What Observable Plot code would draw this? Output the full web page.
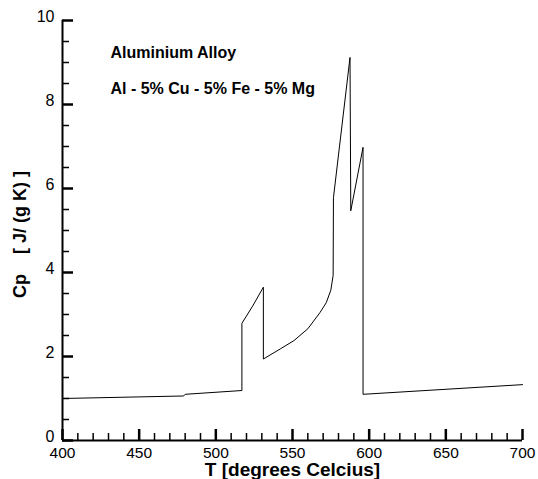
<!DOCTYPE html>
<html>
<head>
<meta charset="utf-8">
<script src="https://cdn.jsdelivr.net/npm/d3@7"></script>
<script src="https://cdn.jsdelivr.net/npm/@observablehq/plot@0.6"></script>
<style>
  html, body { margin: 0; padding: 0; background: #fff; }
  #chart svg { display: block; font-family: 'Liberation Sans', Arial, Helvetica, sans-serif; }
</style>
</head>
<body>
<div id="chart"></div>
<script>
// Temperature (°C) and specific heat Cp (J/(g K))
const temperature = [400, 479, 480, 517, 517, 524, 531, 531, 542, 551, 560, 568, 572, 575, 576.5, 576.7, 587.5, 588, 596, 596, 700];
const cp          = [1.00, 1.06, 1.10, 1.19, 2.79, 3.20, 3.65, 1.94, 2.18, 2.38, 2.66, 3.05, 3.28, 3.58, 3.93, 5.78, 9.12, 5.47, 6.98, 1.10, 1.33];

const xMajorTicks = [400, 450, 500, 550, 600, 650, 700];
const yMajorTicks = [0, 2, 4, 6, 8, 10];
const xMinorTicks = d3.range(400, 701, 10).filter(t => t % 50 !== 0);
const yMinorTicks = d3.range(0, 10.01, 0.5).filter(t => t % 2 !== 0);

const xTitle = "T [degrees Celcius]";
const yTitle = "Cp    [ J/ (g K) ]";
const noteLines = ["Aluminium Alloy", "Al - 5% Cu - 5% Fe - 5% Mg"];

const data = temperature.map((t, i) => ({t, cp: cp[i]}));
const asObj = arr => arr.map(v => ({v}));

const W = 538, H = 479;
const mL = 62, mR = 16, mT = 20, mB = 39;
const frameW = W - mL - mR, frameH = H - mT - mB;

const chart = Plot.plot({
  width: W,
  height: H,
  marginLeft: mL,
  marginRight: mR,
  marginTop: mT,
  marginBottom: mB,
  x: {domain: [400, 700]},
  y: {domain: [0, 10]},
  marks: [
    // inward ticks drawn as short tick marks inset from the frame
    Plot.tickX(asObj(xMinorTicks), {x: "v", stroke: "black", strokeWidth: 1.5, insetTop: frameH - 7}),
    Plot.tickX(asObj(xMajorTicks), {x: "v", stroke: "black", strokeWidth: 2.5, insetTop: frameH - 11}),
    Plot.tickY(asObj(yMinorTicks), {y: "v", stroke: "black", strokeWidth: 1.5, insetRight: frameW - 7}),
    Plot.tickY(asObj(yMajorTicks), {y: "v", stroke: "black", strokeWidth: 2.5, insetRight: frameW - 11}),
    // tick labels
    Plot.axisX({ticks: xMajorTicks, tickSize: 0, tickPadding: 6, fontSize: 15.5, label: null, tickFormat: d => String(d), fill: "black"}),
    Plot.axisY({ticks: yMajorTicks, tickSize: 0, tickPadding: 8, fontSize: 16, label: null, tickFormat: d => String(d), dy: -4, fill: "black"}),
    // axis lines
    Plot.ruleY([0], {stroke: "black", strokeWidth: 2}),
    Plot.ruleX([400], {stroke: "black", strokeWidth: 2}),
    // data line
    Plot.line(data, {x: "t", y: "cp", stroke: "black", strokeWidth: 1}),
    // titles
    Plot.text([xTitle], {frameAnchor: "bottom", dy: 35, lineAnchor: "bottom", fontSize: 19, fontWeight: "bold", fill: "black"}),
    Plot.text([yTitle], {frameAnchor: "left", rotate: -90, dx: -42, dy: 4, textAnchor: "middle", lineAnchor: "middle", fontSize: 18, fontWeight: "bold", fill: "black"}),
    // annotations
    Plot.text([noteLines[0]], {frameAnchor: "top-left", dx: 48, dy: 37, lineAnchor: "bottom", textAnchor: "start", fontSize: 16, fontWeight: "bold", fill: "black"}),
    Plot.text([noteLines[1]], {frameAnchor: "top-left", dx: 48, dy: 73, lineAnchor: "bottom", textAnchor: "start", fontSize: 16, fontWeight: "bold", fill: "black"})
  ]
});

document.getElementById("chart").appendChild(chart);
</script>
</body>
</html>
